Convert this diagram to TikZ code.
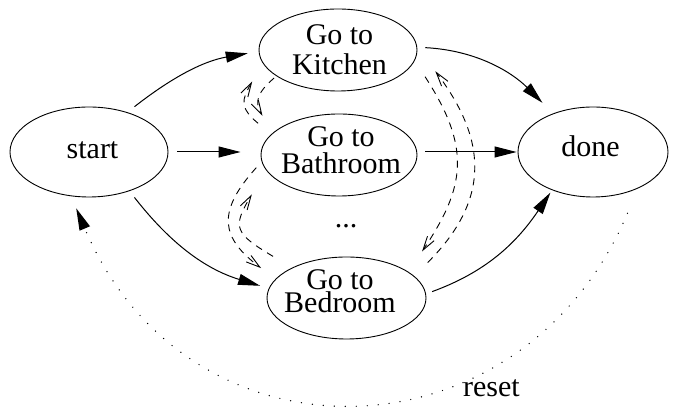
\documentclass[tikz,border=0pt]{standalone}
\usepackage{fontspec}
\setmainfont{Liberation Serif}
\usetikzlibrary{shapes.geometric,arrows.meta,calc}

\tikzset{
  state/.style={draw, ellipse, line width=0.9pt, inner sep=0pt},
  lbl/.style={align=center, inner sep=0pt},
  flow/.style={line width=1pt, -{Triangle[length=22pt,width=11pt]}},
  back/.style={line width=0.9pt, dash pattern=on 7pt off 6pt,
               -{Straight Barb[length=14pt,width=8pt]}},
  resetln/.style={line width=1.4pt, line cap=round, dash pattern=on 0pt off 11pt,
                  -{Triangle[length=22pt,width=11pt]}}
}

\begin{document}
\begin{tikzpicture}[x=1pt,y=1pt]
\useasboundingbox (0,0) rectangle (673,409);

% states
\node[state, minimum width=158pt, minimum height=90pt] (start)   at (89,257)  {};
\node[state, minimum width=158pt, minimum height=82pt] (kitchen) at (338,359) {};
\node[state, minimum width=156pt, minimum height=82pt] (bath)    at (339,254) {};
\node[state, minimum width=159pt, minimum height=82pt] (bed)     at (346.5,111) {};
\node[state, minimum width=150pt, minimum height=90pt] (done)    at (593,257) {};

% state names
\node[lbl, font=\fontsize{30}{30}\selectfont, anchor=base] (start-t) at (92.5,250) {start};
\node[lbl, font=\fontsize{30}{30}\selectfont, anchor=base] (done-t)  at (590.5,252) {done};
\node[lbl, font=\fontsize{30}{30}\selectfont] (kitchen-t) at (339.5,359.25) {Go to\\Kitchen};
\node[lbl, font=\fontsize{30}{27}\selectfont] (bath-t)    at (341,258.75) {Go to\\Bathroom};
\node[lbl, font=\fontsize{30}{23}\selectfont] (bed-t)     at (340,117.75) {Go to\\Bedroom};
\node[lbl, font=\fontsize{30}{30}\selectfont, anchor=base] (more)  at (346,181) {...};
\node[lbl, font=\fontsize{30}{30}\selectfont, anchor=base] (reset-t) at (491.5,12) {reset};

% forward transitions
\draw[flow, shorten <=9pt, shorten >=11pt] (start.46) to[out=38,in=190] (kitchen.181);
\draw[flow, shorten <=9pt, shorten >=20pt] (start.east) -- (start.east -| bath.west);
\draw[flow, shorten <=8pt, shorten >=9pt] (start.-44) to[out=-52,in=163] (bed.173);
\draw[flow, shorten <=8pt, shorten >=15pt] (kitchen.2) to[out=-3,in=135] (done.136);
\draw[flow, shorten <=8pt, shorten >=1pt] (bath.east |- done.west) -- (done.west);
\draw[flow, shorten <=6.5pt, shorten >=3pt] (bed.3) to[out=20,in=236] (done.223);

% switching between rooms
\draw[back, shorten <=3pt, shorten >=20pt] (kitchen.203) to[out=220,in=119,looseness=1.4] (bath.162);
\draw[back, shorten <=17pt, shorten >=21pt] (bath.163) to[out=140,in=240,looseness=1.5] (kitchen.190);
\draw[back, shorten <=8pt, shorten >=18pt] (bath.185) to[out=228,in=143,looseness=1.48] (bed.165);
\draw[back, shorten <=22pt, shorten >=28pt] (bed.151) to[out=149,in=239,looseness=1.7] (bath.192);
\draw[back, shorten <=19pt, shorten >=24.5pt] (kitchen.-8) to[out=-57,in=56,looseness=1.25] (bed.23);
\draw[back, shorten <=19pt, shorten >=30pt] (bed.18) to[out=45,in=-53,looseness=1.25] (kitchen.2);

% reset loop
\draw[resetln, shorten <=27pt, shorten >=13pt] (done.-39) to[out=247,in=-67,looseness=1.35] (start.248);
\end{tikzpicture}
\end{document}
